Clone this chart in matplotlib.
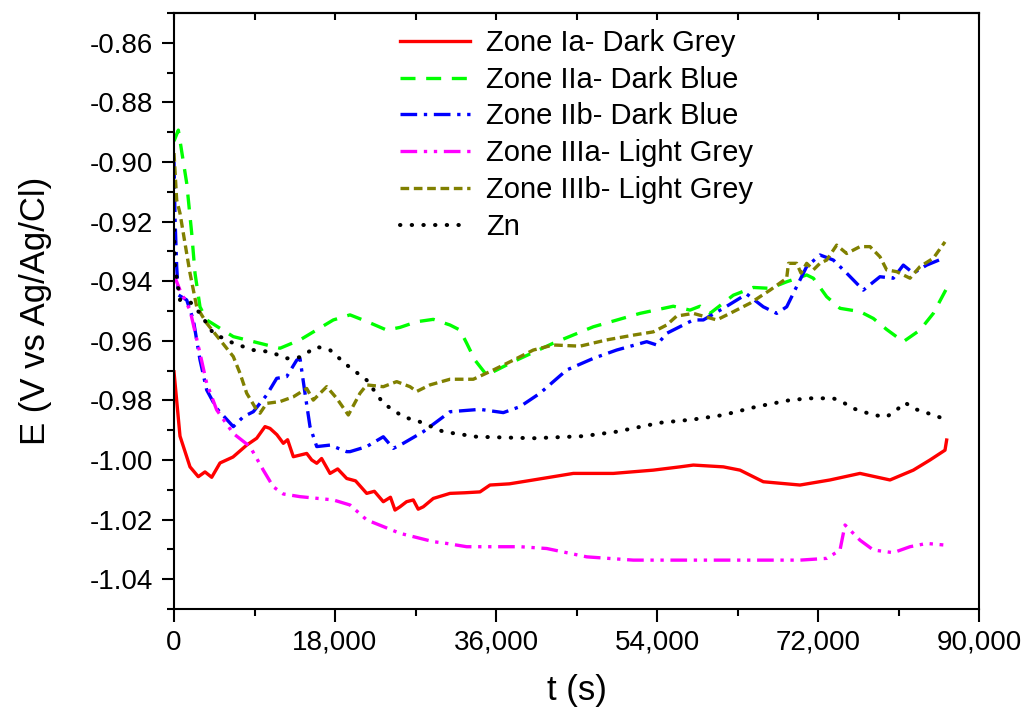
import numpy as np
import matplotlib
matplotlib.use("Agg")
from matplotlib import pyplot as plt
from matplotlib.ticker import MultipleLocator, FuncFormatter

plt.rcParams['font.family'] = ['Liberation Sans', 'DejaVu Sans']
plt.rcParams['axes.unicode_minus'] = False

# open circuit potential over 24 h
t_ia = [0, 671, 1789, 2717, 3466, 4215, 5143, 6596, 8128, 9246, 10174, 10733, 11500, 12223, 12700,
        13341, 14839, 15400, 15957, 16500, 17444, 18300, 19310, 20300, 21543, 22400, 23400, 24200,
        24708, 25267, 26000, 26754, 27300, 27872, 28990, 30857, 32500, 34211, 35329, 37500, 40170,
        44643, 49115, 53588, 56571, 58060, 61418, 63279, 65887, 69987, 73341, 76695, 80049, 82658,
        84520, 86198, 86384]
e_ia = [-0.9704, -0.992, -1.0023, -1.0056, -1.004, -1.0058, -1.001, -0.999, -0.995, -0.9927, -0.9888,
        -0.9894, -0.9915, -0.9944, -0.9932, -0.9989, -0.9978, -1.0000, -1.0011, -0.9995, -1.0045,
        -1.0030, -1.0062, -1.0070, -1.0112, -1.0105, -1.014, -1.0125, -1.0168, -1.0157, -1.0140,
        -1.0134, -1.0165, -1.0157, -1.0129, -1.0112, -1.0110, -1.0107, -1.0084, -1.0080, -1.0067,
        -1.0045, -1.0045, -1.0034, -1.0023, -1.0017, -1.0023, -1.0034, -1.0073, -1.0084, -1.0067,
        -1.0045, -1.0067, -1.0034, -1.0, -0.9967, -0.9933]

t_iia = [0, 485, 1420, 1979, 2348, 2907, 3656, 6630, 10360, 11851, 14087, 17810, 19677, 21543, 23780,
         25267, 27134, 28990, 30857, 31975, 32721, 33652, 34956, 37934, 42406, 46879, 52098, 55825,
         57688, 58807, 59925, 62534, 64770, 66634, 68497, 70733, 71479, 72970, 74461, 76695, 78186,
         79677, 81539, 83402, 84893, 86384]
e_iia = [-0.893, -0.8893, -0.9071, -0.9239, -0.9373, -0.9486, -0.953, -0.9586, -0.9614, -0.9625,
         -0.9597, -0.953, -0.9513, -0.9535, -0.9564, -0.9555, -0.9536, -0.9528, -0.9547, -0.9564,
         -0.9608, -0.9665, -0.9715, -0.967, -0.9608, -0.9553, -0.9508, -0.9484, -0.9497, -0.9484,
         -0.9508, -0.9447, -0.9421, -0.9424, -0.9402, -0.9379, -0.939, -0.9452, -0.9491, -0.9502,
         -0.9525, -0.9562, -0.9603, -0.9564, -0.9508, -0.9424]

t_iib = [0, 110, 300, 485, 1420, 2161, 2907, 3656, 4774, 6630, 7748, 8866, 10360, 11482, 12600,
         13718, 14087, 14646, 15205, 15957, 17441, 19310, 19677, 21543, 23400, 24518, 25636, 27872,
         30108, 30857, 34211, 36816, 38683, 40919, 43900, 46879, 49490, 52850, 53970, 55080, 58060,
         59180, 61418, 64025, 65887, 67382, 68500, 69615, 70733, 72223, 73713, 75206, 77063, 78927,
         80418, 81539, 82658, 84150, 86011]
e_iib = [-0.9, -0.9184, -0.9351, -0.9446, -0.9463, -0.953, -0.9664, -0.9765, -0.9827, -0.9888,
         -0.9855, -0.9838, -0.9782, -0.9726, -0.972, -0.9665, -0.9659, -0.9776, -0.9888, -0.9955,
         -0.995, -0.9972, -0.9972, -0.9955, -0.9922, -0.9961, -0.9944, -0.9905, -0.9855, -0.9838,
         -0.983, -0.9841, -0.9821, -0.9776, -0.9698, -0.9659, -0.9631, -0.9603, -0.9614, -0.9575,
         -0.953, -0.953, -0.9491, -0.9443, -0.9486, -0.9508, -0.9486, -0.9418, -0.9351, -0.9312,
         -0.9329, -0.9373, -0.943, -0.9385, -0.939, -0.9346, -0.9373, -0.9346, -0.9323]

t_iiia = [0, 671, 1789, 2907, 3656, 4774, 6630, 8497, 9984, 11102, 12220, 14087, 17810, 19677,
          21543, 25267, 28990, 30484, 32721, 38683, 41666, 46138, 51350, 60000, 70000, 73000, 74461,
          75020, 75579, 76695, 78186, 80418, 82285, 84150, 86011]
e_iiia = [-0.9379, -0.943, -0.9497, -0.9642, -0.9743, -0.9832, -0.9911, -0.9955, -1.0034, -1.009,
          -1.0114, -1.0123, -1.0134, -1.0151, -1.0201, -1.0246, -1.0274, -1.028, -1.0291, -1.0291,
          -1.0297, -1.0325, -1.0336, -1.0336, -1.0336, -1.033, -1.0302, -1.0218, -1.0235, -1.0269,
          -1.0302, -1.0311, -1.0291, -1.028, -1.0285]

t_iiib = [0, 300, 671, 1230, 1789, 2538, 3656, 5143, 6630, 7379, 8128, 9246, 9615, 10360, 11851,
          13341, 14836, 15574, 17071, 18190, 19490, 20795, 21543, 23400, 24898, 26385, 27134, 28620,
          30857, 33462, 35698, 37934, 40170, 42406, 45391, 48376, 51350, 53588, 55080, 56198, 58060,
          60675, 62160, 64397, 66634, 68497, 68700, 69615, 70100, 70733, 71479, 72223, 72970, 74088,
          75206, 76695, 77813, 78927, 79677, 80798, 82285, 83402, 84893, 86198]
e_iiib = [-0.897, -0.9128, -0.9172, -0.9273, -0.9373, -0.9486, -0.9541, -0.9597, -0.9653, -0.9709,
          -0.9776, -0.9832, -0.9843, -0.981, -0.9804, -0.9788, -0.976, -0.9799, -0.9754, -0.9793,
          -0.9849, -0.9776, -0.9748, -0.9754, -0.9737, -0.9754, -0.977, -0.9748, -0.9729, -0.9729,
          -0.9698, -0.9665, -0.9631, -0.9614, -0.9618, -0.9597, -0.9581, -0.957, -0.9547, -0.9517,
          -0.9508, -0.953, -0.9508, -0.9474, -0.943, -0.939, -0.934, -0.934, -0.9373, -0.934,
          -0.9362, -0.934, -0.9329, -0.9279, -0.9307, -0.9284, -0.9284, -0.9318, -0.9362, -0.9368,
          -0.939, -0.9351, -0.9323, -0.9268]

t_zn = [0, 110, 671, 1789, 2907, 4393, 6630, 8866, 10733, 12600, 14087, 15957, 17441, 19310, 21543,
        23400, 25636, 27500, 30108, 33840, 40170, 45760, 49490, 54335, 58060, 61418, 65142, 68869,
        71105, 73713, 74828, 75943, 78186, 79677, 80798, 81727, 82658, 84893, 86198]
e_zn = [-0.9228, -0.9351, -0.9463, -0.9469, -0.9508, -0.9575, -0.9608, -0.9631, -0.9637, -0.9659,
        -0.9655, -0.962, -0.9631, -0.9681, -0.9732, -0.981, -0.9855, -0.9872, -0.9905, -0.9922,
        -0.9927, -0.992, -0.9905, -0.9875, -0.9864, -0.9849, -0.9821, -0.9799, -0.9793, -0.9793,
        -0.9807, -0.9827, -0.9849, -0.9855, -0.9832, -0.9807, -0.9827, -0.9849, -0.9863]

fig = plt.figure(figsize=(10.27, 7.13), dpi=100)
ax = fig.add_axes([174 / 1027, 1 - 609 / 713, 805 / 1027, 596 / 713])

lw = 2.4
ax.plot(t_ia, e_ia, color='#ff0000', lw=lw, label='Zone Ia- Dark Grey')
ax.plot(t_iia, e_iia, color='#00ff00', lw=lw, dashes=(4.5, 3.2), label='Zone IIa- Dark Blue')
ax.plot(t_iib, e_iib, color='#0000ff', lw=lw, dashes=(5, 2, 1, 2), label='Zone IIb- Dark Blue')
ax.plot(t_iiia, e_iiia, color='#ff00ff', lw=lw, dashes=(5, 2, 1, 2, 1, 2), label='Zone IIIa- Light Grey')
ax.plot(t_iiib, e_iiib, color='#808000', lw=lw, dashes=(2.6, 1.4), label='Zone IIIb- Light Grey')
ax.plot(t_zn, e_zn, color='black', lw=2.9, dashes=(0.1, 2.8), dash_capstyle='round', label='Zn')

ax.set_xlim(0, 90000)
ax.set_ylim(-1.05, -0.85)
ax.xaxis.set_major_locator(MultipleLocator(18000))
ax.xaxis.set_minor_locator(MultipleLocator(9000))
ax.yaxis.set_major_locator(MultipleLocator(0.02))
ax.yaxis.set_minor_locator(MultipleLocator(0.01))
ax.xaxis.set_major_formatter(FuncFormatter(lambda v, p: f"{v:,.0f}"))
ax.yaxis.set_major_formatter(FuncFormatter(lambda v, p: f"{v:.2f}"))

ax.tick_params(which='both', direction='out', width=1.5, labelsize=20, pad=6)
ax.tick_params(which='major', length=9)
ax.tick_params(which='minor', length=5)
for s in ax.spines.values():
    s.set_linewidth(1.5)

top = ax.secondary_xaxis('top')
top.xaxis.set_major_locator(MultipleLocator(18000))
top.xaxis.set_minor_locator(MultipleLocator(9000))
top.tick_params(which='both', direction='in', width=1.5, length=5, labeltop=False)
top.spines['top'].set_linewidth(1.5)

ax.set_xlabel('t (s)', fontsize=25, labelpad=13)
ax.set_ylabel('E (V vs Ag/Ag/Cl)', fontsize=25, labelpad=27)

ax.legend(loc='upper left', bbox_to_anchor=(400 / 1027, 1 - 29 / 713),
          bbox_transform=fig.transFigure, frameon=False, fontsize=21,
          handlelength=2.4, handletextpad=0.55, labelspacing=0.3, borderpad=0,
          borderaxespad=0)

fig.savefig('out.png', dpi=100)
